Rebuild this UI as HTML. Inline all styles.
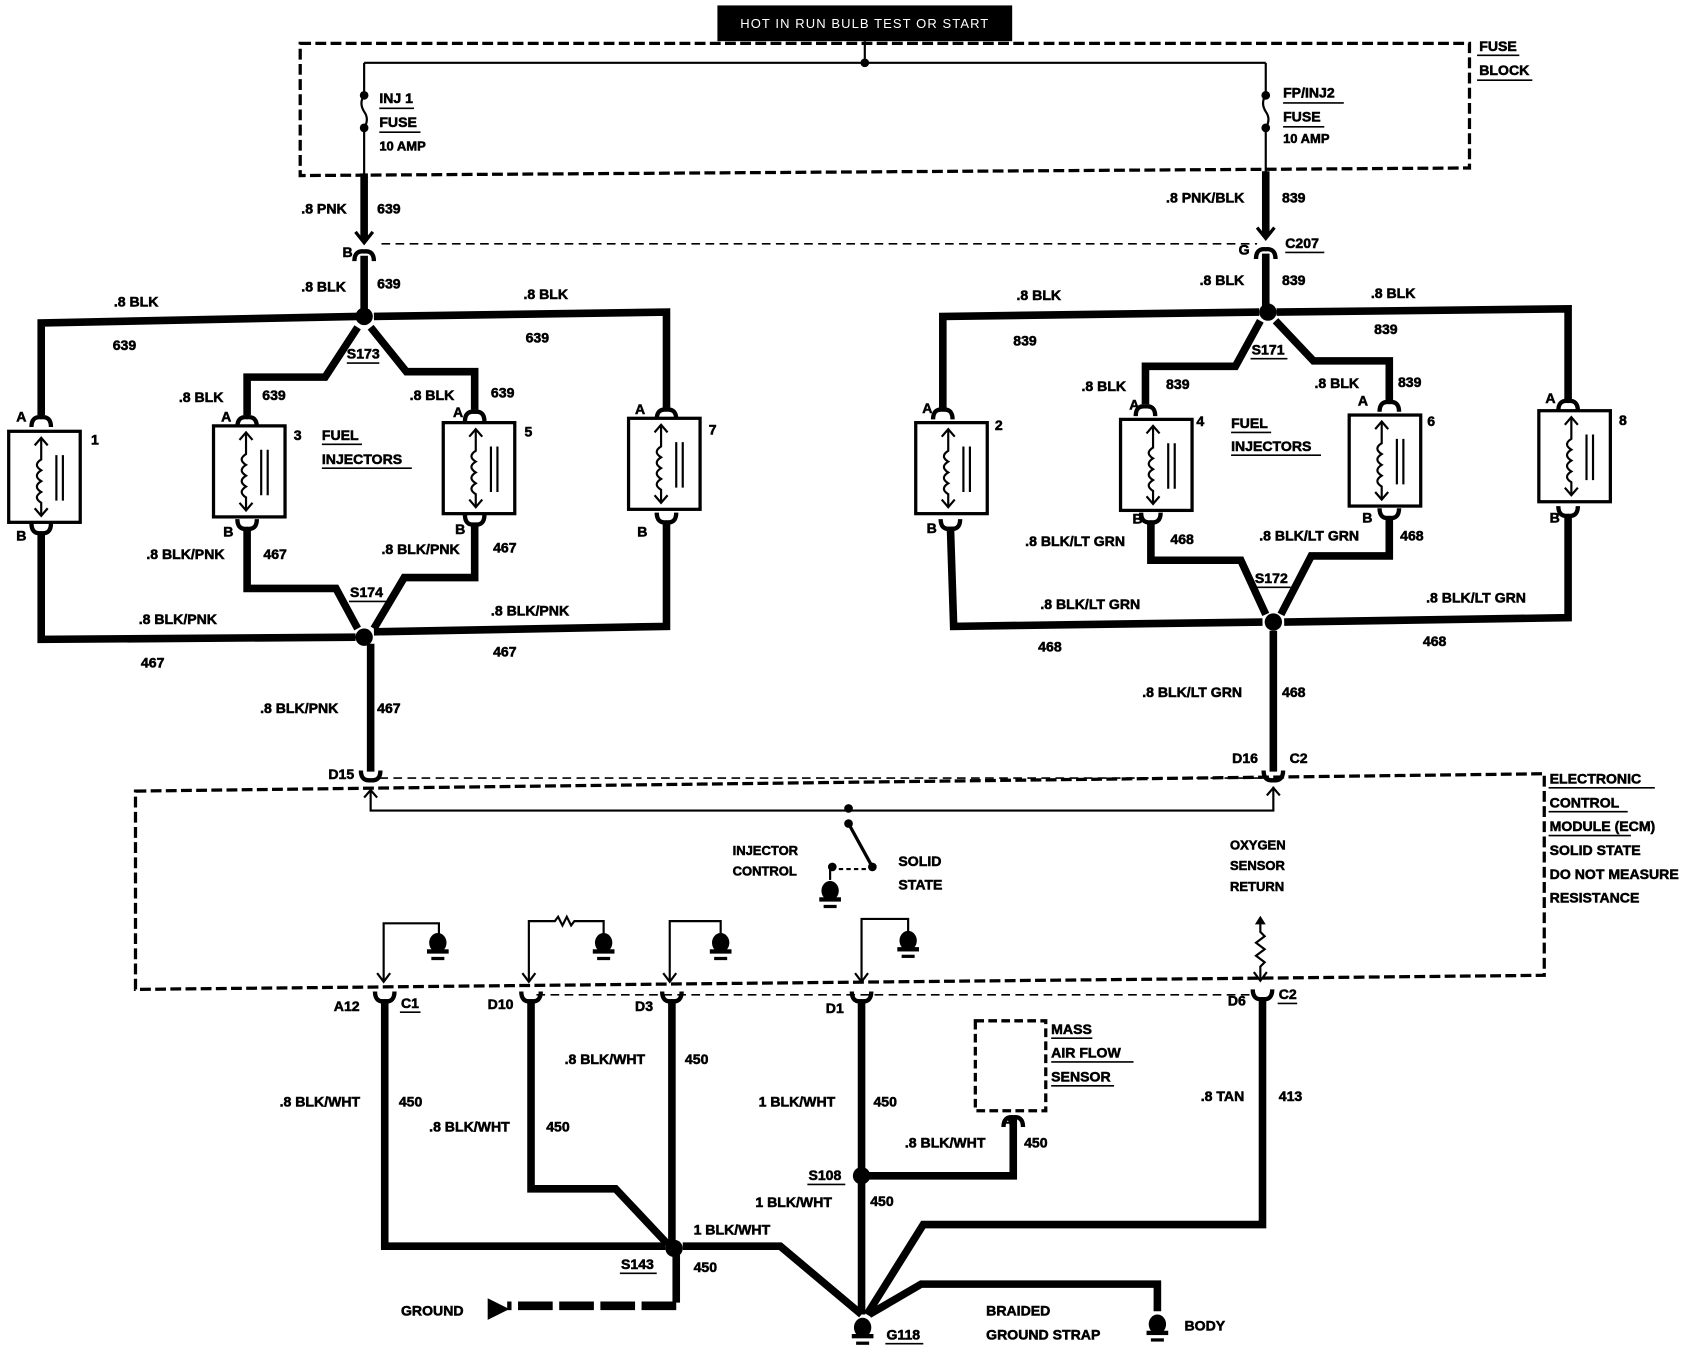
<!DOCTYPE html>
<html><head><meta charset="utf-8"><style>
html,body{margin:0;padding:0;background:#fff}
svg{display:block}
text{font-family:"Liberation Sans",sans-serif;font-weight:bold;font-size:13px;fill:#000;stroke:#000;stroke-width:0.5}
.s{font-size:12px}
.w{fill:none;stroke:#000;stroke-width:7;stroke-linejoin:miter}
.t{fill:none;stroke:#000;stroke-width:2}
.d{fill:none;stroke:#000;stroke-width:3;stroke-dasharray:10 4}
.dt{fill:none;stroke:#000;stroke-width:1.5;stroke-dasharray:8 5}
</style></head><body>
<svg width="1696" height="1360" viewBox="0 0 1565 1255" xmlns="http://www.w3.org/2000/svg">
<defs>
<g id="inj">
<rect x="0" y="0" width="66" height="84" fill="#fff" stroke="#000" stroke-width="3"/>
<path d="M30 6V26q-8 5 0 10q-8 5 0 10q-8 5 0 10q-8 5 0 10V78" fill="none" stroke="#000" stroke-width="2"/>
<path d="M24 13l6-7 6 7M24 71l6 7 6-7" fill="none" stroke="#000" stroke-width="2"/>
<path d="M44 22V64M50 22V64" stroke="#000" stroke-width="2"/>
</g>
<g id="ctop"><path d="M-9 7Q-9 -3 0 -2Q9 -3 9 7" fill="none" stroke="#000" stroke-width="4"/></g>
<g id="cbot"><path d="M-9 -7Q-9 3 0 2Q9 3 9 -7" fill="none" stroke="#000" stroke-width="4"/></g>
<g id="gnd"><ellipse cx="0" cy="0" rx="8" ry="9" fill="#000"/><rect x="-10" y="6" width="20" height="4" fill="#000"/><rect x="-6" y="13" width="12" height="3" fill="#000"/></g>
</defs>

<rect x="662" y="5" width="272" height="33" fill="#000"/>
<text x="798" y="26" text-anchor="middle" style="fill:#fff;stroke:none;font-weight:normal;font-size:12px;letter-spacing:1px">HOT IN RUN BULB TEST OR START</text>

<path class="d" d="M277 40H1356V155L277 162Z"/>
<text x="1365" y="47">FUSE</text><text x="1365" y="69">BLOCK</text>
<path d="M1363 51H1402M1363 74H1414" stroke="#000" stroke-width="1.5"/>
<path class="t" d="M798 38V58M336 58H1168M336 58V88M1168 58V88"/>
<circle cx="798" cy="58" r="4"/>
<path class="t" d="M336 88q-5 7 0 15q5 7 0 15V162M1168 88q-5 7 0 15q5 7 0 15V162"/>
<circle cx="336" cy="88" r="4"/><circle cx="336" cy="118" r="4"/>
<circle cx="1168" cy="88" r="4"/><circle cx="1168" cy="118" r="4"/>
<text x="350" y="95">INJ 1</text><text x="350" y="117">FUSE</text><text x="350" y="139" class="s">10 AMP</text>
<path d="M350 100H382M350 122H388" stroke="#000" stroke-width="1.5"/>
<text x="1184" y="90">FP/INJ2</text><text x="1184" y="112">FUSE</text><text x="1184" y="132" class="s">10 AMP</text>
<path d="M1184 95H1240M1184 117H1222" stroke="#000" stroke-width="1.5"/>

<path class="w" d="M336 160V222M1168 158V218"/>
<path d="M328 214l8 10 8-10M1160 210l8 10 8-10" fill="none" stroke="#000" stroke-width="3"/>
<path class="dt" d="M352 225H1160"/>
<use href="#ctop" x="336" y="234"/><use href="#ctop" x="1168" y="232"/>
<path class="w" d="M336 236V292M1168 234V288"/>
<text x="278" y="197">.8 PNK</text><text x="348" y="197">639</text>
<text x="316" y="237">B</text>
<text x="278" y="269">.8 BLK</text><text x="348" y="266">639</text>
<text x="1076" y="187">.8 PNK/BLK</text><text x="1183" y="187">839</text>
<text x="1143" y="235">G</text><text x="1186" y="229">C207</text>
<path d="M1186 233H1222" stroke="#000" stroke-width="1.5"/>
<text x="1107" y="263">.8 BLK</text><text x="1183" y="263">839</text>

<path class="w" d="M330 292L38 298V383M345 292L615 288V377M330 302L300 348H228V383M342 302L375 343H438V378"/>
<path class="w" d="M38 492V590L328 588M228 488V543H310L330 580M438 484V533H373L345 580M615 484V578L345 583M342 594V712"/>
<circle cx="336" cy="292" r="8"/><circle cx="336" cy="588" r="8"/>
<use href="#ctop" x="38" y="387"/><use href="#cbot" x="38" y="490"/>
<use href="#ctop" x="228" y="387"/><use href="#cbot" x="228" y="486"/>
<use href="#ctop" x="438" y="382"/><use href="#cbot" x="438" y="482"/>
<use href="#ctop" x="615" y="380"/><use href="#cbot" x="615" y="480"/>
<use href="#inj" x="8" y="398"/><use href="#inj" x="197" y="393"/>
<use href="#inj" x="409" y="390"/><use href="#inj" x="580" y="386"/>
<text x="105" y="283">.8 BLK</text><text x="104" y="323">639</text>
<text x="483" y="276">.8 BLK</text><text x="485" y="316">639</text>
<text x="165" y="371">.8 BLK</text><text x="242" y="369">639</text>
<text x="378" y="369">.8 BLK</text><text x="453" y="367">639</text>
<text x="320" y="331">S173</text><path d="M320 335H350" stroke="#000" stroke-width="1.5"/>
<text x="15" y="389">A</text><text x="84" y="410">1</text><text x="15" y="499">B</text>
<text x="204" y="389">A</text><text x="271" y="406">3</text><text x="206" y="495">B</text>
<text x="418" y="385">A</text><text x="484" y="403">5</text><text x="420" y="493">B</text>
<text x="586" y="382">A</text><text x="654" y="401">7</text><text x="588" y="495">B</text>
<text x="297" y="406">FUEL</text><text x="297" y="428">INJECTORS</text>
<path d="M297 410H334M297 432H380" stroke="#000" stroke-width="1.5"/>
<text x="135" y="516">.8 BLK/PNK</text><text x="243" y="516">467</text>
<text x="352" y="511">.8 BLK/PNK</text><text x="455" y="510">467</text>
<text x="323" y="551">S174</text><path d="M322 555H356" stroke="#000" stroke-width="1.5"/>
<text x="128" y="576">.8 BLK/PNK</text><text x="130" y="616">467</text>
<text x="453" y="568">.8 BLK/PNK</text><text x="455" y="606">467</text>
<text x="240" y="658">.8 BLK/PNK</text><text x="348" y="658">467</text>
<text x="303" y="719">D15</text>

<path class="w" d="M1162 288L870 292V376M1178 288L1447 285V370M1163 296L1140 338H1057V373M1177 296L1212 333H1282V370"/>
<path class="w" d="M877 486L880 578L1165 574M1062 482V517H1145L1168 567M1282 476V513H1210L1182 567M1447 476V570L1185 574M1175 582V712"/>
<circle cx="1170" cy="288" r="8"/><circle cx="1175" cy="574" r="8"/>
<use href="#ctop" x="870" y="380"/><use href="#cbot" x="877" y="486"/>
<use href="#ctop" x="1057" y="377"/><use href="#cbot" x="1062" y="480"/>
<use href="#ctop" x="1282" y="373"/><use href="#cbot" x="1282" y="476"/>
<use href="#ctop" x="1447" y="372"/><use href="#cbot" x="1447" y="474"/>
<use href="#inj" x="845" y="390"/><use href="#inj" x="1034" y="387"/>
<use href="#inj" x="1245" y="383"/><use href="#inj" x="1420" y="379"/>
<text x="938" y="277">.8 BLK</text><text x="935" y="319">839</text>
<text x="1265" y="275">.8 BLK</text><text x="1268" y="308">839</text>
<text x="998" y="361">.8 BLK</text><text x="1076" y="359">839</text>
<text x="1213" y="358">.8 BLK</text><text x="1290" y="357">839</text>
<text x="1155" y="327">S171</text><path d="M1154 331H1188" stroke="#000" stroke-width="1.5"/>
<text x="851" y="381">A</text><text x="918" y="397">2</text><text x="855" y="492">B</text>
<text x="1042" y="378">A</text><text x="1104" y="393">4</text><text x="1045" y="483">B</text>
<text x="1253" y="374">A</text><text x="1317" y="393">6</text><text x="1257" y="482">B</text>
<text x="1426" y="372">A</text><text x="1494" y="392">8</text><text x="1430" y="482">B</text>
<text x="1136" y="395">FUEL</text><text x="1136" y="416">INJECTORS</text>
<path d="M1136 399H1173M1136 420H1219" stroke="#000" stroke-width="1.5"/>
<text x="946" y="504">.8 BLK/LT GRN</text><text x="1080" y="502">468</text>
<text x="1162" y="499">.8 BLK/LT GRN</text><text x="1292" y="499">468</text>
<text x="1158" y="538">S172</text><path d="M1157 542H1191" stroke="#000" stroke-width="1.5"/>
<text x="960" y="562">.8 BLK/LT GRN</text><text x="958" y="601">468</text>
<text x="1316" y="556">.8 BLK/LT GRN</text><text x="1313" y="596">468</text>
<text x="1054" y="643">.8 BLK/LT GRN</text><text x="1183" y="643">468</text>
<text x="1137" y="704">D16</text><text x="1190" y="704">C2</text>

<use href="#cbot" x="342" y="718"/><use href="#cbot" x="1175" y="718"/>
<path class="dt" d="M350 718H1168"/>
<path class="d" d="M125 730L1425 714V900L125 913Z"/>
<path class="t" d="M342 728V748H1175V726"/>
<path d="M336 736l6-7 6 7M1169 734l6-7 6 7" fill="none" stroke="#000" stroke-width="2"/>
<circle cx="783" cy="746" r="4"/><circle cx="783" cy="760" r="4"/>
<path d="M783 760L805 800" stroke="#000" stroke-width="3"/>
<circle cx="805" cy="800" r="4"/><circle cx="768" cy="800" r="4"/>
<path d="M774 802H800" stroke="#000" stroke-width="2" stroke-dasharray="4 3"/>
<path class="t" d="M766 800V812"/>
<use href="#gnd" x="766" y="822"/>
<text x="676" y="789" class="s">INJECTOR</text><text x="676" y="808" class="s">CONTROL</text>
<text x="829" y="799">SOLID</text><text x="829" y="821">STATE</text>
<text x="1135" y="784" class="s">OXYGEN</text><text x="1135" y="803" class="s">SENSOR</text><text x="1135" y="822" class="s">RETURN</text>
<path d="M1163 845l-5 8h10z"/>
<path class="t" d="M1163 850V860l4 4-8 6 8 6-8 6 8 6-4 4V905"/>
<path d="M1157 897l6 8 6-8" fill="none" stroke="#000" stroke-width="2"/>
<text x="1430" y="723">ELECTRONIC</text><text x="1430" y="745">CONTROL</text>
<text x="1430" y="767">MODULE (ECM)</text><text x="1430" y="789">SOLID STATE</text>
<text x="1430" y="811">DO NOT MEASURE</text><text x="1430" y="833">RESISTANCE</text>
<path d="M1429 727H1527M1429 749H1502M1429 771H1505" stroke="#000" stroke-width="1.5"/>

<path class="t" d="M354 905V852H405V862M488 905V850H512l3-4 4 8 4-8 4 8 3-4H557V862M618 905V850H665V862M795 905V848H838V860"/>
<path d="M348 898l6 8 6-8M482 898l6 8 6-8M612 898l6 8 6-8M789 898l6 8 6-8" fill="none" stroke="#000" stroke-width="2"/>
<use href="#gnd" x="404" y="870"/><use href="#gnd" x="557" y="870"/>
<use href="#gnd" x="665" y="870"/><use href="#gnd" x="838" y="868"/>

<path class="dt" d="M495 918H1158"/>
<use href="#cbot" x="355" y="922"/><use href="#cbot" x="490" y="922"/><use href="#cbot" x="620" y="922"/>
<use href="#cbot" x="795" y="922"/><use href="#cbot" x="1165" y="920"/>
<path class="w" d="M355 922V1150H614M490 922V1097H568L616 1148M620 922V1146M624 1158V1202M630 1150H720L795 1213M795 922V1213M800 1085H935V1032M1165 920V1130H852L800 1213M802 1213L850 1185H1068V1210"/>
<path d="M624 1205H468" fill="none" stroke="#000" stroke-width="8" stroke-dasharray="32 6"/>
<path d="M450 1198l20 10-20 10z"/>
<circle cx="622" cy="1152" r="8"/><circle cx="795" cy="1085" r="8"/>
<use href="#ctop" x="935" y="1033"/>
<rect x="900" y="942" width="65" height="83" fill="none" stroke="#000" stroke-width="3" stroke-dasharray="8 4"/>
<use href="#gnd" x="796" y="1225"/><use href="#gnd" x="1068" y="1222"/>
<text x="308" y="933">A12</text><text x="370" y="930">C1</text><path d="M369 934H388" stroke="#000" stroke-width="1.5"/>
<text x="258" y="1021">.8 BLK/WHT</text><text x="368" y="1021">450</text>
<text x="450" y="931">D10</text><text x="586" y="933">D3</text>
<text x="396" y="1044">.8 BLK/WHT</text><text x="504" y="1044">450</text>
<text x="521" y="982">.8 BLK/WHT</text><text x="632" y="982">450</text>
<text x="573" y="1171">S143</text><path d="M572 1175H606" stroke="#000" stroke-width="1.5"/>
<text x="640" y="1174">450</text><text x="640" y="1139">1 BLK/WHT</text>
<text x="370" y="1214">GROUND</text>
<text x="762" y="935">D1</text>
<text x="700" y="1021">1 BLK/WHT</text><text x="806" y="1021">450</text>
<text x="746" y="1089">S108</text><path d="M745 1093H780" stroke="#000" stroke-width="1.5"/>
<text x="697" y="1114">1 BLK/WHT</text><text x="803" y="1113">450</text>
<text x="970" y="954">MASS</text><text x="970" y="976">AIR FLOW</text><text x="970" y="998">SENSOR</text>
<path d="M970 958H1008M970 980H1046M970 1002H1028" stroke="#000" stroke-width="1.5"/>
<text x="925" y="1039">A</text>
<text x="835" y="1059">.8 BLK/WHT</text><text x="945" y="1059">450</text>
<text x="1133" y="928">D6</text><text x="1180" y="922">C2</text><path d="M1179 926H1197" stroke="#000" stroke-width="1.5"/>
<text x="1108" y="1016">.8 TAN</text><text x="1180" y="1016">413</text>
<text x="818" y="1236">G118</text><path d="M817 1240H852" stroke="#000" stroke-width="1.5"/>
<text x="910" y="1214">BRAIDED</text><text x="910" y="1236">GROUND STRAP</text>
<text x="1093" y="1228">BODY</text>
</svg>
</body></html>
